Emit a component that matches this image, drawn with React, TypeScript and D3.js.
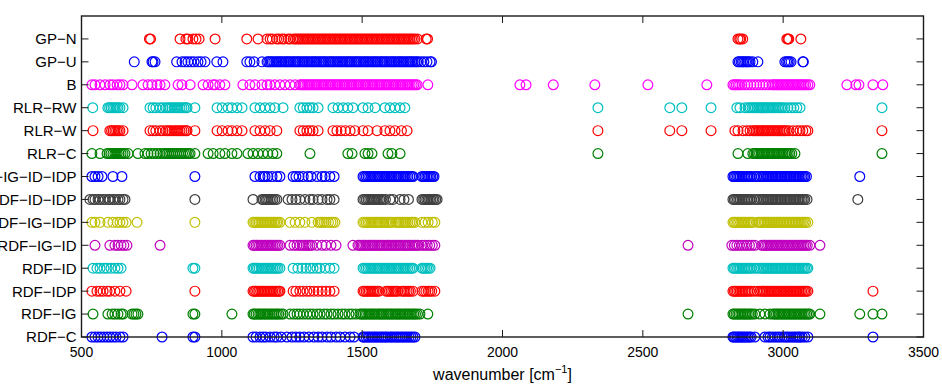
import React, { useEffect, useRef } from 'react';
import * as d3 from 'd3';

// row labels, bottom to top
const categories = [
  'RDF−C', 'RDF−IG', 'RDF−IDP', 'RDF−ID', 'RDF−IG−ID', 'RDF−IG−IDP', 'RDF−ID−IDP',
  'RDF−IG−ID−IDP', 'RLR−C', 'RLR−W', 'RLR−RW', 'B', 'GP−U', 'GP−N'
];

const xTicks = [500, 1000, 1500, 2000, 2500, 3000, 3500];

// wavenumbers (cm^-1) of the marked features, one list per row
const rdfC = [537, 548, 559, 569, 580, 591, 601, 612, 623, 637, 648, 787, 897, 904, 1111, 1122, 1136, 1147, 1157, 1172, 1186, 1196, 1211, 1232, 1250, 1264, 1278, 1293, 1310, 1328, 1343, 1357, 1375, 1389, 1407, 1421, 1439, 1457, 1471, 1503, 1507, 1514, 1521, 1526, 1533, 1540, 1546, 1552, 1559, 1566, 1572, 1579, 1585, 1592, 1600, 1606, 1613, 1620, 1626, 1633, 1640, 1646, 1653, 1660, 1667, 1674, 1681, 1688, 2821, 2825, 2830, 2836, 2841, 2846, 2851, 2857, 2862, 2868, 2874, 2880, 2886, 2899, 2935, 2946, 2953, 2962, 2971, 2980, 2988, 2997, 3006, 3013, 3020, 3028, 3035, 3042, 3049, 3056, 3060, 3068, 3077, 3088, 3320];
const rdfIg = [541, 594, 609, 619, 630, 641, 648, 680, 687, 694, 701, 897, 904, 1036, 1111, 1116, 1122, 1129, 1135, 1140, 1147, 1153, 1159, 1165, 1172, 1178, 1184, 1191, 1197, 1203, 1211, 1218, 1243, 1257, 1268, 1278, 1290, 1303, 1314, 1325, 1339, 1350, 1364, 1375, 1389, 1400, 1414, 1428, 1439, 1453, 1464, 1478, 1492, 1498, 1504, 1510, 1516, 1523, 1529, 1535, 1541, 1547, 1554, 1560, 1566, 1572, 1578, 1585, 1591, 1597, 1603, 1609, 1616, 1622, 1628, 1634, 1640, 1647, 1653, 1659, 1665, 1671, 1678, 1684, 1690, 1697, 1706, 1734, 2661, 2821, 2826, 2832, 2838, 2843, 2849, 2855, 2861, 2866, 2872, 2878, 2884, 2890, 2899, 2917, 2935, 2953, 2964, 2970, 2976, 2982, 2988, 2994, 3000, 3006, 3012, 3018, 3024, 3030, 3036, 3042, 3048, 3054, 3060, 3066, 3072, 3078, 3084, 3090, 3095, 3131, 3273, 3320, 3352];
const rdfIdp = [537, 555, 566, 577, 591, 601, 619, 637, 659, 904, 1111, 1116, 1121, 1127, 1132, 1138, 1143, 1149, 1154, 1160, 1166, 1171, 1177, 1182, 1188, 1193, 1199, 1204, 1207, 1254, 1264, 1278, 1290, 1303, 1314, 1328, 1343, 1357, 1371, 1385, 1400, 1503, 1508, 1514, 1520, 1525, 1531, 1537, 1542, 1548, 1554, 1560, 1585, 1591, 1597, 1603, 1609, 1615, 1621, 1627, 1640, 1647, 1653, 1660, 1666, 1672, 1681, 1713, 1720, 1727, 1735, 1741, 1748, 1759, 2821, 2826, 2831, 2836, 2842, 2847, 2852, 2857, 2863, 2868, 2874, 2880, 2887, 2897, 2908, 2917, 2924, 2929, 2934, 2940, 2945, 2950, 2955, 2961, 2966, 2971, 2977, 2982, 2987, 2992, 2998, 3003, 3008, 3013, 3019, 3024, 3029, 3035, 3040, 3045, 3050, 3056, 3061, 3066, 3072, 3077, 3082, 3088, 3320];
const rdfId = [541, 555, 566, 580, 591, 605, 619, 630, 641, 897, 904, 1111, 1116, 1122, 1127, 1133, 1140, 1146, 1152, 1158, 1164, 1170, 1176, 1182, 1188, 1194, 1200, 1207, 1254, 1271, 1286, 1300, 1314, 1325, 1339, 1350, 1368, 1385, 1400, 1503, 1509, 1515, 1521, 1527, 1533, 1540, 1546, 1552, 1558, 1564, 1570, 1577, 1583, 1589, 1595, 1601, 1607, 1614, 1620, 1626, 1632, 1638, 1645, 1651, 1657, 1663, 1670, 1676, 1681, 1713, 1718, 1724, 1730, 1736, 1742, 2821, 2826, 2831, 2837, 2842, 2847, 2853, 2858, 2863, 2869, 2874, 2880, 2886, 2896, 2905, 2914, 2922, 2928, 2933, 2939, 2944, 2949, 2955, 2960, 2965, 2971, 2976, 2981, 2987, 2992, 2997, 3003, 3008, 3013, 3019, 3024, 3029, 3035, 3040, 3045, 3051, 3056, 3061, 3067, 3072, 3077, 3083, 3088];
const rdfIgId = [548, 601, 619, 630, 641, 651, 662, 780, 1111, 1116, 1122, 1128, 1134, 1140, 1146, 1152, 1158, 1164, 1170, 1176, 1182, 1188, 1194, 1200, 1207, 1243, 1257, 1268, 1278, 1286, 1293, 1300, 1307, 1314, 1321, 1339, 1357, 1371, 1389, 1407, 1467, 1485, 1491, 1497, 1503, 1509, 1515, 1522, 1528, 1534, 1540, 1546, 1553, 1559, 1565, 1571, 1577, 1584, 1590, 1596, 1602, 1608, 1615, 1621, 1627, 1633, 1639, 1646, 1652, 1658, 1664, 1670, 1677, 1683, 1689, 1695, 1701, 1713, 1722, 1732, 1741, 1750, 1759, 2661, 2817, 2826, 2835, 2844, 2853, 2862, 2871, 2880, 2889, 2899, 2924, 2930, 2936, 2942, 2948, 2954, 2960, 2966, 2972, 2978, 2984, 2990, 2996, 3002, 3008, 3014, 3020, 3026, 3032, 3038, 3044, 3050, 3056, 3062, 3068, 3074, 3080, 3086, 3095, 3131];
const rdfIgIdp = [537, 548, 566, 594, 612, 627, 637, 648, 659, 698, 904, 1111, 1117, 1122, 1128, 1133, 1139, 1144, 1150, 1156, 1161, 1167, 1172, 1178, 1184, 1189, 1195, 1200, 1207, 1243, 1261, 1278, 1296, 1321, 1343, 1350, 1357, 1364, 1371, 1380, 1389, 1396, 1403, 1503, 1509, 1515, 1521, 1527, 1533, 1540, 1546, 1552, 1558, 1564, 1570, 1577, 1583, 1589, 1595, 1601, 1607, 1620, 1626, 1632, 1638, 1645, 1651, 1657, 1663, 1670, 1676, 1681, 1688, 1713, 1724, 1735, 1750, 1759, 2821, 2826, 2831, 2837, 2842, 2848, 2853, 2859, 2864, 2870, 2876, 2881, 2887, 2892, 2910, 2915, 2921, 2926, 2932, 2937, 2943, 2948, 2954, 2959, 2965, 2970, 2976, 2981, 2987, 2992, 2998, 3003, 3009, 3014, 3020, 3025, 3031, 3036, 3042, 3047, 3053, 3058, 3064, 3069, 3075, 3080, 3088];
const rdfIdIdp = [530, 541, 548, 559, 566, 577, 584, 596, 601, 612, 619, 630, 637, 648, 655, 904, 1111, 1143, 1148, 1154, 1159, 1164, 1170, 1176, 1182, 1189, 1196, 1236, 1250, 1264, 1278, 1296, 1314, 1325, 1343, 1357, 1375, 1385, 1400, 1503, 1509, 1515, 1521, 1527, 1533, 1539, 1545, 1551, 1557, 1563, 1569, 1575, 1583, 1599, 1610, 1635, 1649, 1665, 1713, 1719, 1724, 1730, 1735, 1740, 1745, 1751, 1756, 1762, 1767, 2821, 2826, 2831, 2837, 2842, 2847, 2853, 2858, 2863, 2869, 2874, 2880, 2886, 2896, 2905, 2914, 2922, 2928, 2933, 2939, 2944, 2949, 2955, 2960, 2965, 2971, 2976, 2981, 2987, 2992, 2997, 3003, 3008, 3013, 3019, 3024, 3029, 3035, 3040, 3045, 3051, 3056, 3061, 3067, 3072, 3077, 3085, 3266];
const rdfIgIdIdp = [537, 548, 559, 573, 612, 644, 904, 1118, 1136, 1147, 1154, 1164, 1179, 1196, 1207, 1254, 1264, 1275, 1290, 1307, 1318, 1339, 1357, 1368, 1385, 1400, 1503, 1509, 1515, 1521, 1527, 1533, 1540, 1546, 1552, 1558, 1564, 1570, 1577, 1583, 1589, 1595, 1601, 1607, 1614, 1620, 1626, 1632, 1638, 1645, 1651, 1657, 1663, 1670, 1676, 1681, 1713, 1719, 1724, 1730, 1735, 1740, 1745, 1751, 1756, 2821, 2826, 2831, 2837, 2842, 2847, 2853, 2858, 2863, 2869, 2874, 2880, 2886, 2896, 2905, 2914, 2922, 2928, 2933, 2939, 2944, 2949, 2955, 2960, 2965, 2971, 2976, 2981, 2987, 2992, 2997, 3003, 3008, 3013, 3019, 3024, 3029, 3035, 3040, 3045, 3051, 3056, 3061, 3067, 3072, 3077, 3083, 3273];
const rlrC = [537, 566, 591, 598, 605, 612, 619, 627, 634, 641, 648, 655, 666, 701, 726, 737, 748, 758, 769, 780, 790, 797, 804, 811, 818, 825, 832, 839, 846, 853, 860, 867, 874, 881, 887, 904, 951, 969, 993, 1011, 1036, 1054, 1093, 1111, 1129, 1147, 1164, 1182, 1196, 1314, 1449, 1464, 1510, 1521, 1535, 1592, 1606, 1635, 2340, 2839, 2874, 2892, 2898, 2904, 2910, 2916, 2922, 2928, 2934, 2940, 2946, 2952, 2958, 2964, 2970, 2976, 2982, 2988, 2994, 3000, 3006, 3012, 3018, 3024, 3031, 3042, 3352];
const rlrW = [541, 601, 607, 613, 619, 625, 631, 637, 648, 744, 755, 765, 780, 790, 801, 808, 815, 822, 830, 837, 844, 851, 858, 865, 872, 876, 904, 983, 1001, 1022, 1036, 1054, 1072, 1118, 1136, 1154, 1172, 1196, 1278, 1290, 1303, 1314, 1325, 1343, 1396, 1410, 1425, 1440, 1457, 1474, 1503, 1521, 1553, 1581, 1599, 1617, 1640, 1660, 2340, 2596, 2639, 2743, 2828, 2839, 2857, 2871, 2882, 2892, 2898, 2904, 2910, 2916, 2922, 2928, 2934, 2940, 2946, 2952, 2958, 2964, 2970, 2976, 2982, 2988, 2994, 3000, 3006, 3012, 3021, 3035, 3049, 3060, 3070, 3081, 3088, 3352];
const rlrRw = [540, 594, 600, 606, 612, 618, 624, 630, 637, 648, 744, 755, 765, 780, 790, 801, 808, 815, 822, 830, 837, 844, 851, 858, 865, 872, 876, 904, 983, 1001, 1022, 1036, 1054, 1072, 1118, 1136, 1154, 1172, 1189, 1218, 1278, 1290, 1303, 1314, 1325, 1343, 1396, 1414, 1432, 1449, 1467, 1503, 1521, 1546, 1581, 1599, 1617, 1635, 1652, 2340, 2596, 2639, 2743, 2835, 2846, 2864, 2875, 2882, 2889, 2895, 2901, 2907, 2913, 2919, 2925, 2931, 2937, 2943, 2949, 2955, 2961, 2967, 2973, 2979, 2985, 2991, 2997, 3006, 3017, 3028, 3038, 3049, 3060, 3352];
const b = [537, 548, 566, 584, 601, 612, 627, 637, 648, 680, 719, 737, 751, 769, 780, 797, 844, 858, 887, 933, 951, 969, 976, 993, 1011, 1075, 1100, 1118, 1143, 1161, 1172, 1189, 1207, 1225, 1243, 1261, 1278, 1284, 1290, 1296, 1303, 1309, 1315, 1321, 1328, 1334, 1340, 1346, 1353, 1359, 1365, 1371, 1378, 1384, 1390, 1396, 1403, 1409, 1415, 1421, 1428, 1434, 1440, 1446, 1453, 1459, 1465, 1471, 1478, 1484, 1490, 1496, 1503, 1509, 1515, 1521, 1528, 1534, 1540, 1546, 1553, 1559, 1565, 1571, 1578, 1584, 1590, 1596, 1603, 1609, 1615, 1621, 1628, 1634, 1640, 1646, 1653, 1659, 1665, 1671, 1678, 1684, 1690, 1696, 1734, 2062, 2084, 2181, 2329, 2518, 2728, 2821, 2827, 2833, 2839, 2845, 2853, 2864, 2874, 2885, 2896, 2906, 2917, 2928, 2938, 2949, 2960, 2966, 2972, 2978, 2984, 2990, 2996, 3002, 3008, 3014, 3020, 3026, 3032, 3038, 3044, 3050, 3056, 3062, 3068, 3074, 3080, 3088, 3095, 3227, 3259, 3270, 3320, 3355];
const gpU = [688, 751, 755, 762, 839, 858, 869, 879, 890, 901, 915, 926, 940, 982, 1004, 1089, 1100, 1115, 1143, 1161, 1167, 1173, 1179, 1185, 1192, 1198, 1204, 1210, 1216, 1223, 1229, 1235, 1241, 1247, 1254, 1260, 1266, 1272, 1278, 1285, 1291, 1297, 1303, 1309, 1316, 1322, 1328, 1334, 1340, 1347, 1353, 1359, 1365, 1371, 1378, 1384, 1390, 1396, 1402, 1409, 1415, 1421, 1427, 1433, 1440, 1446, 1452, 1458, 1464, 1471, 1477, 1483, 1489, 1495, 1502, 1508, 1514, 1520, 1526, 1533, 1539, 1545, 1551, 1557, 1564, 1570, 1576, 1582, 1588, 1595, 1601, 1607, 1613, 1619, 1626, 1632, 1638, 1644, 1650, 1657, 1663, 1669, 1675, 1681, 1688, 1694, 1700, 1710, 1720, 1731, 1742, 1747, 2839, 2844, 2850, 2855, 2860, 2866, 2871, 2876, 2882, 2892, 2910, 3006, 3012, 3017, 3022, 3028, 3070, 3072];
const gpN = [742, 746, 851, 872, 879, 897, 908, 919, 976, 1089, 1129, 1161, 1172, 1180, 1195, 1203, 1214, 1222, 1236, 1243, 1255, 1262, 1268, 1274, 1280, 1286, 1292, 1298, 1304, 1310, 1316, 1322, 1328, 1334, 1340, 1346, 1352, 1358, 1364, 1370, 1376, 1382, 1388, 1394, 1400, 1406, 1412, 1418, 1424, 1430, 1436, 1442, 1448, 1454, 1460, 1466, 1472, 1478, 1484, 1490, 1496, 1502, 1508, 1514, 1520, 1526, 1532, 1538, 1544, 1550, 1556, 1562, 1568, 1574, 1580, 1586, 1592, 1598, 1604, 1610, 1616, 1622, 1628, 1634, 1640, 1646, 1652, 1658, 1664, 1670, 1676, 1682, 1688, 1697, 1728, 1733, 2839, 2845, 2849, 2856, 3013, 3017, 3020, 3063];

const rows = [rdfC, rdfIg, rdfIdp, rdfId, rdfIgId, rdfIgIdp, rdfIdIdp, rdfIgIdIdp, rlrC, rlrW, rlrRw, b, gpU, gpN];
const colors = ['#0000ff', '#008000', '#ff0000', '#00bfbf', '#bf00bf', '#bfbf00', '#404040',
  '#0000ff', '#008000', '#ff0000', '#00bfbf', '#ff00ff', '#0000ff', '#ff0000'];

const W = 942;
const H = 387;
const margin = { left: 81.5, right: 18.5, top: 16, bottom: 50 };

export default function App() {
  const ref = useRef<SVGSVGElement>(null);

  useEffect(() => {
    const svg = d3.select(ref.current);
    svg.selectAll('*').remove();

    const x = d3.scaleLinear().domain([500, 3500]).range([margin.left, W - margin.right]);
    const y = d3.scaleLinear().domain([1, 15]).range([H - margin.bottom, margin.top]);
    const x0 = x.range()[0], x1 = x.range()[1];
    const y0 = y.range()[0], y1 = y.range()[1];
    const font = '"Liberation Sans", Arial, sans-serif';

    // markers
    rows.forEach((vals, i) => {
      svg.append('g')
        .selectAll('circle')
        .data(vals)
        .enter()
        .append('circle')
        .attr('cx', d => x(d))
        .attr('cy', y(i + 1))
        .attr('r', 4.9)
        .attr('fill', 'none')
        .attr('stroke', colors[i])
        .attr('stroke-width', 1.2);
    });

    // box
    svg.append('rect')
      .attr('x', x0).attr('y', y1)
      .attr('width', x1 - x0).attr('height', y0 - y1)
      .attr('fill', 'none').attr('stroke', '#1a1a1a').attr('stroke-width', 1.4);

    // inward ticks
    const tl = 7;
    const g = svg.append('g').attr('stroke', '#1a1a1a').attr('stroke-width', 1);
    xTicks.forEach(t => {
      g.append('line').attr('x1', x(t)).attr('x2', x(t)).attr('y1', y0).attr('y2', y0 - tl);
      g.append('line').attr('x1', x(t)).attr('x2', x(t)).attr('y1', y1).attr('y2', y1 + tl);
    });
    categories.forEach((c, i) => {
      g.append('line').attr('x1', x0).attr('x2', x0 + tl).attr('y1', y(i + 1)).attr('y2', y(i + 1));
      g.append('line').attr('x1', x1).attr('x2', x1 - tl).attr('y1', y(i + 1)).attr('y2', y(i + 1));
    });

    // tick labels
    svg.append('g')
      .selectAll('text')
      .data(xTicks)
      .enter()
      .append('text')
      .attr('x', d => x(d))
      .attr('y', y0 + 20)
      .attr('text-anchor', 'middle')
      .attr('font-family', font)
      .attr('font-size', 14)
      .text(d => d);

    svg.append('g')
      .selectAll('text')
      .data(categories)
      .enter()
      .append('text')
      .attr('x', x0 - 5)
      .attr('y', (d, i) => y(i + 1))
      .attr('dy', '0.36em')
      .attr('text-anchor', 'end')
      .attr('font-family', font)
      .attr('font-size', 15)
      .text(d => d);

    // axis title
    const title = svg.append('text')
      .attr('x', (x0 + x1) / 2)
      .attr('y', H - 7)
      .attr('text-anchor', 'middle')
      .attr('font-family', font)
      .attr('font-size', 16);
    title.append('tspan').text('wavenumber [cm');
    title.append('tspan').attr('dy', -7).attr('font-size', 11).text('−1');
    title.append('tspan').attr('dy', 7).text(']');
  }, []);

  return (
    <svg ref={ref} width={W} height={H}
      style={{ position: 'absolute', left: 0, top: 0, background: '#fff' }} />
  );
}
